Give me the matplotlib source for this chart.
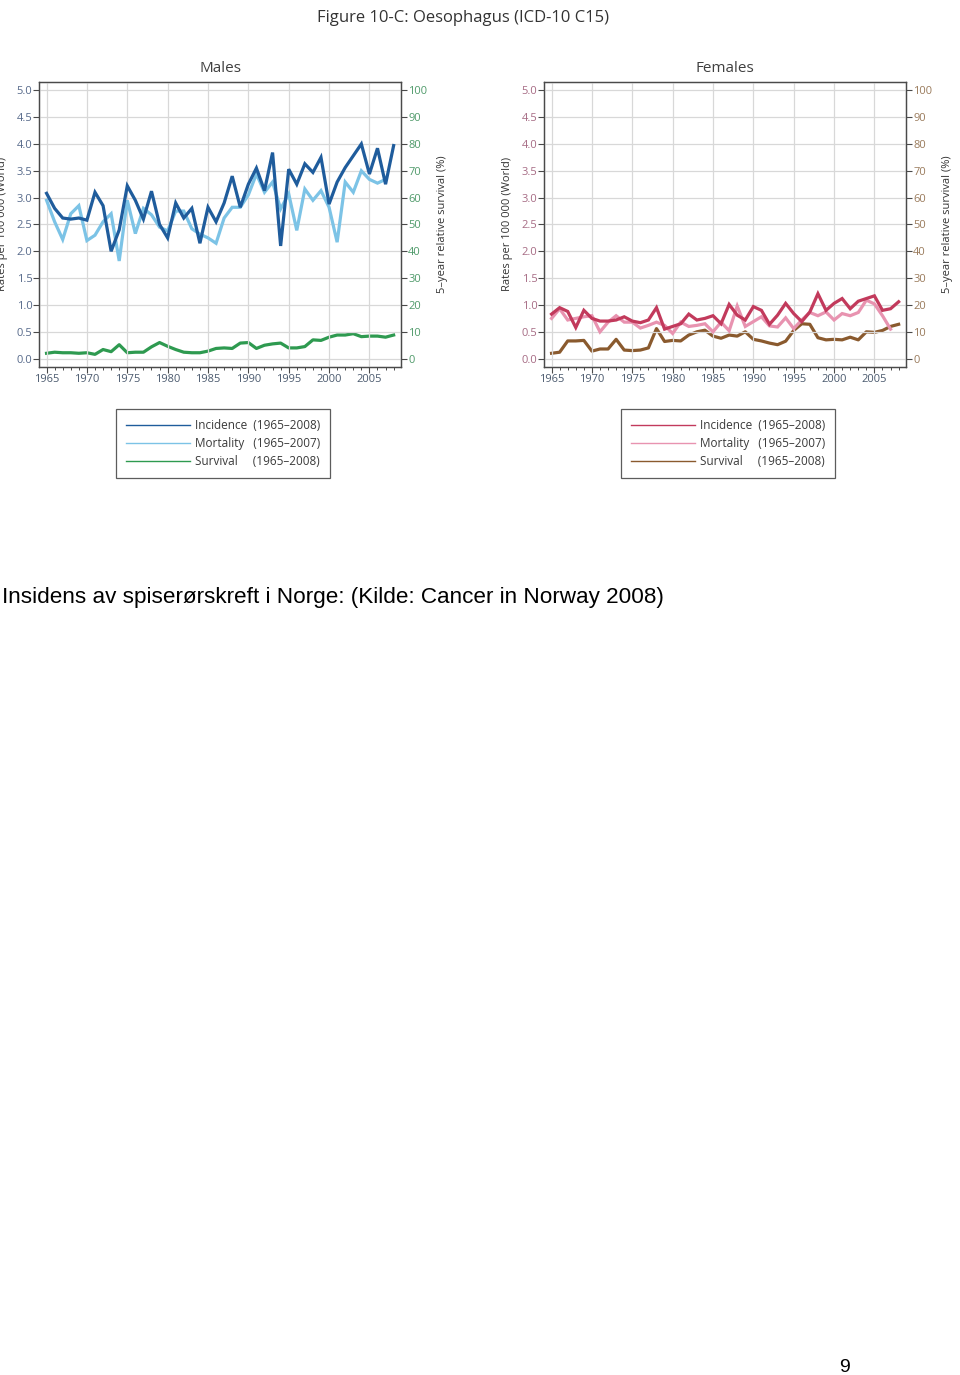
import matplotlib
matplotlib.use("Agg")
import matplotlib.pyplot as plt
from matplotlib.lines import Line2D
from matplotlib.ticker import MultipleLocator

# ---------------- data ----------------
years_incidence = list(range(1965, 2009))
years_mortality = list(range(1965, 2008))
years_survival = list(range(1965, 2009))

male_incidence = [3.08, 2.80, 2.62, 2.60, 2.62, 2.58, 3.10, 2.85, 2.00, 2.40,
                  3.22, 2.95, 2.60, 3.12, 2.50, 2.25, 2.90, 2.62, 2.80, 2.15,
                  2.82, 2.55, 2.90, 3.40, 2.82, 3.25, 3.55, 3.13, 3.84, 2.10,
                  3.53, 3.25, 3.63, 3.47, 3.75, 2.88, 3.29, 3.56, 3.78, 4.00,
                  3.44, 3.92, 3.25, 3.97]
male_mortality = [2.95, 2.55, 2.22, 2.70, 2.85, 2.20, 2.30, 2.55, 2.70, 1.82,
                  2.95, 2.33, 2.80, 2.68, 2.45, 2.38, 2.75, 2.75, 2.42, 2.32,
                  2.25, 2.15, 2.62, 2.82, 2.82, 3.05, 3.44, 3.10, 3.29, 2.79,
                  3.07, 2.39, 3.16, 2.95, 3.13, 2.82, 2.17, 3.29, 3.10, 3.50,
                  3.34, 3.27, 3.34]
male_survival = [2.0, 2.4, 2.2, 2.2, 2.0, 2.2, 1.6, 3.4, 2.6, 5.2,
                 2.2, 2.4, 2.4, 4.4, 6.0, 4.6, 3.4, 2.4, 2.2, 2.2,
                 2.8, 3.8, 4.0, 3.8, 5.8, 6.0, 3.8, 5.0, 5.5, 5.8,
                 4.0, 4.0, 4.5, 7.0, 6.8, 8.0, 8.8, 8.8, 9.3, 8.2,
                 8.4, 8.4, 8.0, 8.8]

female_incidence = [0.83, 0.95, 0.88, 0.58, 0.90, 0.75, 0.70, 0.70, 0.72, 0.78,
                    0.70, 0.67, 0.72, 0.95, 0.55, 0.60, 0.65, 0.83, 0.72, 0.75,
                    0.80, 0.65, 1.01, 0.81, 0.72, 0.97, 0.90, 0.64, 0.81, 1.03,
                    0.84, 0.69, 0.87, 1.21, 0.90, 1.03, 1.12, 0.93, 1.07, 1.12,
                    1.17, 0.90, 0.93, 1.06]
female_mortality = [0.75, 0.93, 0.72, 0.75, 0.78, 0.80, 0.50, 0.68, 0.80, 0.68,
                    0.68, 0.57, 0.62, 0.68, 0.62, 0.47, 0.68, 0.60, 0.62, 0.65,
                    0.50, 0.68, 0.52, 0.98, 0.60, 0.69, 0.78, 0.61, 0.59, 0.76,
                    0.56, 0.72, 0.86, 0.80, 0.87, 0.72, 0.84, 0.80, 0.86, 1.09,
                    1.02, 0.80, 0.55]
female_survival = [2.0, 2.4, 6.6, 6.6, 6.8, 2.8, 3.6, 3.6, 7.2, 3.2,
                   3.0, 3.2, 4.0, 11.2, 6.4, 6.8, 6.6, 8.8, 10.0, 10.6,
                   8.4, 7.6, 8.8, 8.4, 10.0, 7.2, 6.6, 5.8, 5.2, 6.5,
                   10.5, 13.0, 12.8, 7.8, 7.0, 7.2, 7.0, 8.0, 7.0, 10.0,
                   9.8, 10.5, 12.0, 12.8]

series_labels = ["Incidence  (1965\u20132008)",
                 "Mortality   (1965\u20132007)",
                 "Survival     (1965\u20132008)"]
x_ticks = [1965, 1970, 1975, 1980, 1985, 1990, 1995, 2000, 2005]

# ---------------- style ----------------
FONT = ["Open Sans", "DejaVu Sans"]
plt.rcParams["font.family"] = FONT
W, H = 960, 1375
fig = plt.figure(figsize=(W / 100, H / 100), dpi=100)
fig.patch.set_facecolor("white")

SPINE = "#4a4a4a"
GRID = "#d8d8d8"


def panel(left_px, title, inc, mort, surv, colors, lcol, rcol, leg_px):
    ax_l = left_px / W
    ax_w = 362 / W
    ax_b = 1 - 366.7 / H
    ax_h = (366.7 - 81.7) / H
    ax = fig.add_axes([ax_l, ax_b, ax_w, ax_h])
    ax2 = ax.twinx()
    ax.set_xlim(1964.1, 2008.95)
    ax.set_ylim(-0.15, 5.16)
    ax2.set_ylim(-3.0, 103.2)
    ax.set_zorder(ax2.get_zorder() + 1)
    ax.patch.set_visible(False)

    l1, = ax.plot(years_incidence, inc, color=colors[0], lw=2.3, solid_joinstyle="miter", zorder=4)
    l2, = ax.plot(years_mortality, mort, color=colors[1], lw=2.3, solid_joinstyle="miter", zorder=3)
    l3, = ax2.plot(years_survival, surv, color=colors[2], lw=2.3, zorder=3)

    ax.set_yticks([i * 0.5 for i in range(11)])
    ax.set_yticklabels([f"{i * 0.5:.1f}" for i in range(11)])
    ax.set_xticks(x_ticks)
    ax.xaxis.set_minor_locator(MultipleLocator(1))
    ax2.set_yticks(list(range(0, 101, 10)))
    ax.grid(True, which="major", color=GRID, lw=0.9)
    ax.set_axisbelow(True)

    ax.tick_params(axis="y", which="both", direction="out", length=4, width=0.8,
                   color=SPINE, labelsize=8, labelcolor=lcol, pad=1)
    ax.tick_params(axis="x", which="major", direction="out", length=4, width=0.8,
                   color=SPINE, labelsize=8, labelcolor="#4b5a6e", pad=1)
    ax.tick_params(axis="x", which="minor", direction="out", length=2.5, width=0.7,
                   color=SPINE)
    ax2.tick_params(axis="y", direction="out", length=4, width=0.8, color=SPINE,
                    labelsize=8, labelcolor=rcol, pad=1)
    for a in (ax, ax2):
        for s in a.spines.values():
            s.set_color(SPINE)
            s.set_linewidth(0.9)
    ax.set_ylabel("Rates per 100 000 (World)", fontsize=8, color="#333333", labelpad=6)
    ax2.set_ylabel("5\u2013year relative survival (%)", fontsize=8, color="#333333", labelpad=7)

    fig.text((left_px + 181) / W, 1 - 69 / H, title, ha="center", va="center",
             fontsize=11, color="#404040")

    handles = [Line2D([], [], color=l.get_color(), lw=1.0) for l in (l1, l2, l3)]
    leg = fig.legend(handles, series_labels, loc="upper left",
                     bbox_to_anchor=(leg_px / W, 1 - 409 / H),
                     bbox_transform=fig.transFigure, frameon=True, fancybox=False,
                     fontsize=8.5, handlelength=5.4, handletextpad=0.45,
                     labelspacing=0.42, borderpad=0.85, borderaxespad=0)
    leg.get_frame().set_edgecolor("#333333")
    leg.get_frame().set_linewidth(0.9)
    for t in leg.get_texts():
        t.set_color("#3a3a3a")
    return ax


panel(39.3, "Males", male_incidence, male_mortality, male_survival,
      ["#1f5c9c", "#7cc3e6", "#2e9a50"], "#56698a", "#4f9a6a", 116)
panel(544.3, "Females", female_incidence, female_mortality, female_survival,
      ["#c23a5c", "#e893b0", "#8a5a2e"], "#a66b84", "#9a7b5c", 621)

fig.text(463 / W, 1 - 18 / H, "Figure 10-C: Oesophagus (ICD-10 C15)", ha="center",
         va="center", fontsize=12, color="#333333")

fig.text(2 / W, 1 - 598 / H,
         "Insidens av spiserørskreft i Norge: (Kilde: Cancer in Norway 2008)",
         ha="left", va="center", fontsize=16.2, color="black",
         family=["Liberation Sans", "DejaVu Sans"])
fig.text(845 / W, 1 - 1368 / H, "9", ha="center", va="center", fontsize=14,
         color="black", family=["Liberation Sans", "DejaVu Sans"])

fig.savefig("out.png", dpi=100)
